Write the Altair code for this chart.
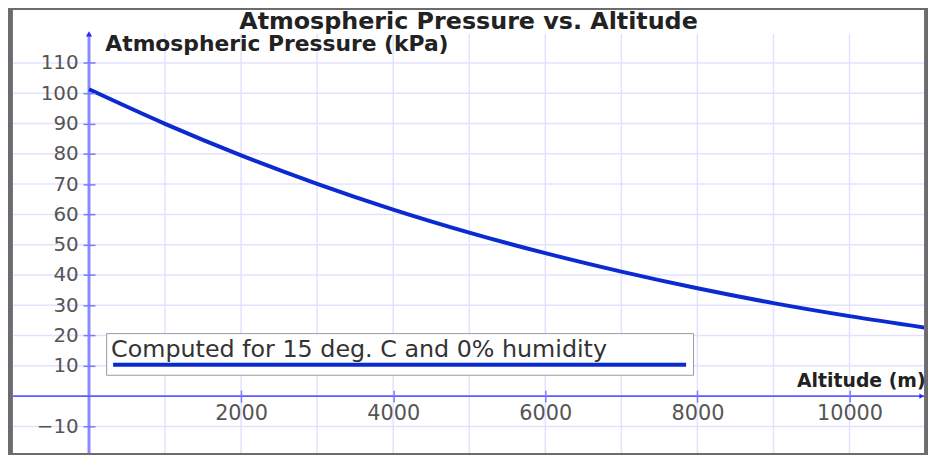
import altair as alt
import pandas as pd

# ---- data ----
altitude_m = [0, 1000, 2000, 3000, 4000, 5000, 6000, 7000, 8000, 9000, 10000, 11000]
pressure_kpa = [101.3, 89.9, 79.5, 70.1, 61.6, 54.0, 47.2, 41.1, 35.6, 30.7, 26.4, 22.6]
series_name = ["Computed for 15 deg. C and 0% humidity"]

x_tick_labels = [2000, 4000, 6000, 8000, 10000]
y_tick_labels = [-10, 10, 20, 30, 40, 50, 60, 70, 80, 90, 100, 110]
x_grid = [1000, 2000, 3000, 4000, 5000, 6000, 7000, 8000, 9000, 10000]
y_grid = [-10, 10, 20, 30, 40, 50, 60, 70, 80, 90, 100, 110]

title_text = ["Atmospheric Pressure vs. Altitude"]
y_title = "Atmospheric Pressure (kPa)"
x_title = "Altitude (m)"

# ---- layout ----
W, H = 919, 447
X_MIN, X_MAX = -1000, 10980
Y_MIN, Y_MAX = -18.8, 127.5
Y_TOP = 119.6          # top end of the y axis line / grid
X_END = 10950          # x axis arrow position

px_x0 = (0 - X_MIN) / (X_MAX - X_MIN) * W       # pixel of x=0 from left
px_y0 = (0 - Y_MIN) / (Y_MAX - Y_MIN) * H       # pixel of y=0 from bottom
TICK = 12

FONT = "DejaVu Sans"
CURVE = "#0b2bd0"
GRID = "#e2e2ff"

xs = alt.Scale(domain=[X_MIN, X_MAX], nice=False, zero=False)
ys = alt.Scale(domain=[Y_MIN, Y_MAX], nice=False, zero=False)

x_axis = alt.Axis(
    values=x_tick_labels, format="d", offset=-(px_y0 + TICK / 2), domain=False, grid=False,
    tickSize=TICK, tickColor="#7a7aff", tickWidth=1.5, zindex=1,
    labelFont=FONT, labelFontSize=21, labelColor="#555555", labelPadding=1,
    labelFlush=False, labelOverlap=False,
    title=x_title, titleFont=FONT, titleFontSize=19, titleFontWeight="bold", titleColor="#222222",
    titleAlign="right", titleAnchor="end", titleBaseline="alphabetic",
    titleX=920, titleY=-4,
)
y_axis = alt.Axis(
    values=y_tick_labels, format="d", offset=-(px_x0 + TICK / 2), domain=False, grid=False,
    tickSize=TICK, tickColor="#7a7aff", tickWidth=1.5, zindex=1,
    labelFont=FONT, labelFontSize=20, labelColor="#555555", labelPadding=5,
    labelFlush=False, labelOverlap=False,
    title=y_title, titleFont=FONT, titleFontSize=22, titleFontWeight="bold", titleColor="#222222",
    titleAngle=0, titleAlign="left", titleBaseline="alphabetic",
    titleX=10, titleY=41,
)

X = lambda f: alt.X(f, type="quantitative", scale=xs, axis=x_axis)
Y = lambda f: alt.Y(f, type="quantitative", scale=ys, axis=y_axis)

panel_df = pd.DataFrame({"x": [X_MIN], "x2": [X_MAX], "y": [Y_MIN], "y2": [Y_MAX]})
vgrid_df = pd.DataFrame({"x": x_grid, "y": [Y_MIN] * len(x_grid), "y2": [Y_TOP] * len(x_grid)})
hgrid_df = pd.DataFrame({"y": y_grid})
curve_df = pd.DataFrame({"x": altitude_m, "y": pressure_kpa, "series": series_name * len(altitude_m)})
yaxis_df = pd.DataFrame({"x": [0], "y": [Y_MIN], "y2": [Y_TOP]})
xaxis_df = pd.DataFrame({"y": [0]})
arrow_up_df = pd.DataFrame({"x": [0], "y": [Y_TOP]})
arrow_right_df = pd.DataFrame({"x": [X_END], "y": [0]})
title_df = pd.DataFrame({"t": title_text})

panel = alt.Chart(panel_df).mark_rect(color="white", strokeWidth=0).encode(
    x=X("x"), x2="x2", y=Y("y"), y2="y2")
vgrid = alt.Chart(vgrid_df).mark_rule(color=GRID, strokeWidth=1.5).encode(
    x=X("x"), y=Y("y"), y2="y2")
hgrid = alt.Chart(hgrid_df).mark_rule(color=GRID, strokeWidth=1.5).encode(y=Y("y"))
yline = alt.Chart(yaxis_df).mark_rule(color="#8a8aff", strokeWidth=3).encode(
    x=X("x"), y=Y("y"), y2="y2")
xline = alt.Chart(xaxis_df).mark_rule(color="#5c5cff", strokeWidth=2).encode(y=Y("y"))
arrow_up = alt.Chart(arrow_up_df).mark_point(
    shape="triangle-up", filled=True, color="#2a2aff", size=40, opacity=1).encode(x=X("x"), y=Y("y"))
arrow_right = alt.Chart(arrow_right_df).mark_point(
    shape="triangle-right", filled=True, color="#2a2aff", size=30, opacity=1).encode(x=X("x"), y=Y("y"))
title = alt.Chart(title_df).mark_text(
    font=FONT, fontSize=24, fontWeight="bold", color="#222222", align="center", baseline="alphabetic"
).encode(text="t:N", x=alt.value(W / 2), y=alt.value(19))

SYM = 578
curve = alt.Chart(curve_df).mark_line(strokeWidth=4, clip=True, interpolate="monotone").encode(
    x=X("x"), y=Y("y"),
    color=alt.Color("series:N", scale=alt.Scale(range=[CURVE]), legend=alt.Legend(
        orient="none", legendX=94, legendY=326,
        title=series_name[0], titleFont=FONT, titleFontSize=24, titleFontWeight="normal",
        titleColor="#333333", titleLimit=2000, titleAnchor="start", titleAlign="left",
        titlePadding=0,
        symbolType="stroke", symbolStrokeWidth=4, symbolSize=SYM * SYM,
        clipHeight=6, labelExpr="''", labelOffset=0,
        strokeColor="#9a9a9a", fillColor="white", padding=5, cornerRadius=0,
    )),
)

chart = alt.layer(panel, vgrid, hgrid, yline, xline, curve, arrow_up, arrow_right, title).properties(
    width=W, height=H,
    background="#6d6a70",
    padding={"left": 5, "top": 0, "right": 4, "bottom": 0},
    autosize=alt.AutoSizeParams(type="none"),
).configure_view(fill="white", stroke=None)

chart.save("out.html", embed_options={"renderer": "svg", "actions": False})
